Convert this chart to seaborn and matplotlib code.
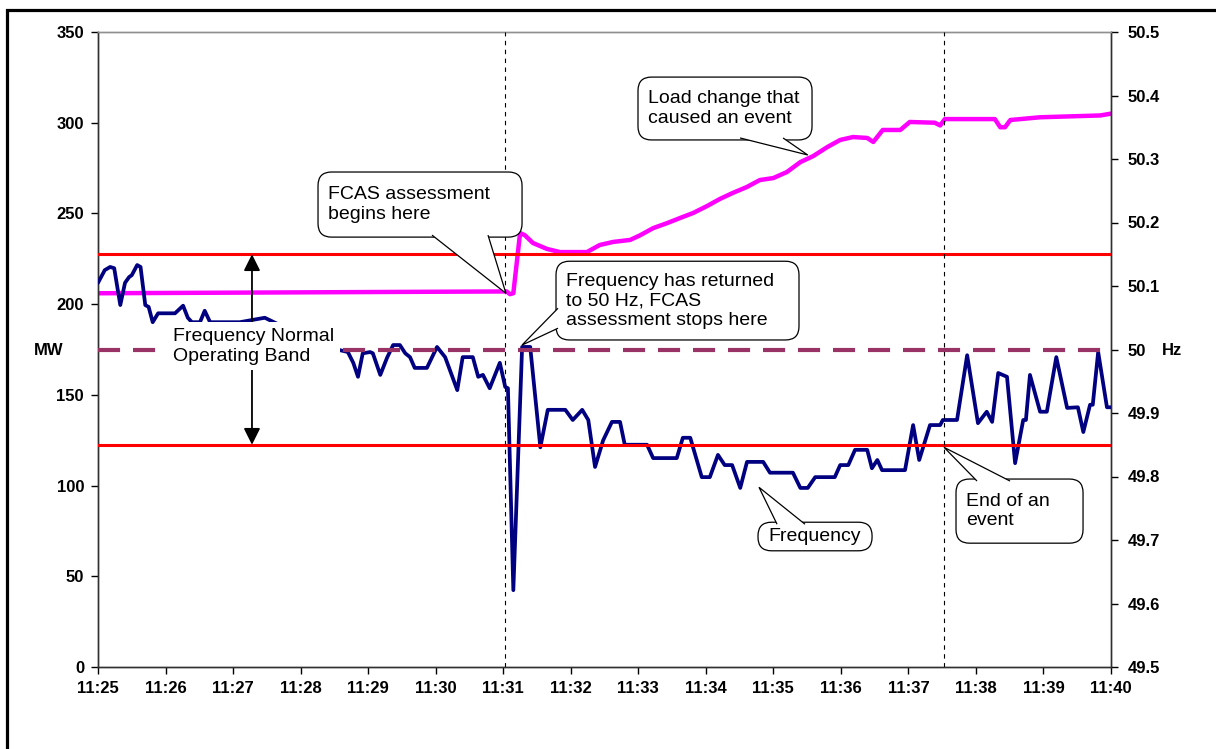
import numpy as np
import pandas as pd
import seaborn as sns
import matplotlib.pyplot as plt
from matplotlib.patches import Rectangle, FancyBboxPatch, Polygon

# time is in minutes after 11:25
freq_minutes = [0.00, 0.10, 0.18, 0.24, 0.33, 0.40, 0.46, 0.50, 0.58, 0.63,
                0.70, 0.75, 0.81, 0.89, 1.14, 1.26, 1.33, 1.39, 1.51, 1.58,
                1.66, 2.10, 2.47, 2.99, 3.58, 3.70, 3.78, 3.85, 3.92, 4.03,
                4.07, 4.18, 4.28, 4.37, 4.47, 4.55, 4.62, 4.69, 4.87, 5.02,
                5.14, 5.32, 5.40, 5.55, 5.63, 5.70, 5.80, 5.95, 6.03, 6.07,
                6.15, 6.28, 6.40, 6.55, 6.66, 6.92, 7.03, 7.17, 7.26, 7.36,
                7.48, 7.61, 7.73, 7.80, 8.13, 8.22, 8.57, 8.66, 8.77, 8.94,
                9.06, 9.18, 9.28, 9.39, 9.51, 9.61, 9.85, 9.95, 10.29, 10.40,
                10.51, 10.62, 10.91, 10.99, 11.11, 11.21, 11.39, 11.46, 11.54, 11.61,
                11.95, 12.07, 12.16, 12.32, 12.47, 12.51, 12.72, 12.87, 13.03, 13.16,
                13.24, 13.33, 13.46, 13.58, 13.70, 13.74, 13.80, 13.95, 14.05, 14.19,
                14.35, 14.51, 14.59, 14.69, 14.73, 14.81, 14.94, 15.00]
freq_hz = [50.105, 50.125, 50.130, 50.128, 50.070, 50.105, 50.114, 50.117, 50.133, 50.130,
           50.070, 50.067, 50.043, 50.057, 50.057, 50.069, 50.050, 50.043, 50.043, 50.061,
           50.043, 50.043, 50.050, 50.023, 49.999, 49.996, 49.979, 49.957, 49.994, 49.996,
           49.994, 49.960, 49.987, 50.007, 50.007, 49.994, 49.988, 49.971, 49.971, 50.004,
           49.988, 49.936, 49.988, 49.988, 49.957, 49.960, 49.939, 49.979, 49.941, 49.939,
           49.621, 50.004, 50.004, 49.846, 49.905, 49.905, 49.889, 49.905, 49.889, 49.815,
           49.857, 49.886, 49.886, 49.850, 49.850, 49.829, 49.829, 49.861, 49.861, 49.799,
           49.799, 49.834, 49.818, 49.818, 49.782, 49.823, 49.823, 49.806, 49.806, 49.782,
           49.782, 49.799, 49.799, 49.818, 49.818, 49.842, 49.842, 49.813, 49.826, 49.810,
           49.810, 49.881, 49.826, 49.881, 49.881, 49.889, 49.889, 49.991, 49.884, 49.902,
           49.886, 49.963, 49.957, 49.821, 49.889, 49.889, 49.960, 49.902, 49.902, 49.988,
           49.908, 49.909, 49.870, 49.913, 49.913, 49.996, 49.909, 49.909]

load_minutes = [0.00, 3.00, 6.05, 6.10, 6.15, 6.25, 6.32, 6.44, 6.65, 6.84,
                7.24, 7.43, 7.63, 7.88, 8.03, 8.22, 8.43, 8.62, 8.81, 9.02,
                9.21, 9.40, 9.61, 9.80, 10.00, 10.20, 10.40, 10.59, 10.80, 10.99,
                11.18, 11.39, 11.48, 11.62, 11.88, 12.02, 12.39, 12.47, 12.54, 13.28,
                13.36, 13.43, 13.51, 13.95, 14.84, 15.00]
load_mw = [206.0, 206.5, 207.0, 205.5, 206.0, 239.2, 238.0, 233.7, 230.4, 228.7,
           228.7, 232.6, 234.3, 235.4, 238.0, 241.9, 244.7, 247.5, 250.2, 254.1,
           258.0, 261.3, 264.6, 268.4, 269.5, 272.8, 278.3, 281.6, 286.6, 290.5,
           292.1, 291.6, 289.4, 296.0, 296.0, 300.4, 300.0, 298.5, 302.0, 302.0,
           297.5, 297.5, 301.5, 303.0, 304.0, 305.0]

time_labels = ["11:25", "11:26", "11:27", "11:28", "11:29", "11:30", "11:31", "11:32",
               "11:33", "11:34", "11:35", "11:36", "11:37", "11:38", "11:39", "11:40"]
mw_ticks = [0, 50, 100, 150, 200, 250, 300, 350]
hz_ticks = [49.5, 49.6, 49.7, 49.8, 49.9, 50.0, 50.1, 50.2, 50.3, 50.4, 50.5]
hz_labels = ["49.5", "49.6", "49.7", "49.8", "49.9", "50", "50.1", "50.2", "50.3", "50.4", "50.5"]

band_hz = [49.85, 50.15]
nominal_hz = 50.0
assessment_start = 6.03   # 11:31:02
event_end = 12.53         # 11:37:32

sns.set_theme(style="ticks")
plt.rcParams['font.family'] = ['Liberation Sans', 'DejaVu Sans']
plt.rcParams['text.color'] = 'black'
plt.rcParams['axes.labelcolor'] = 'black'
plt.rcParams['xtick.color'] = 'black'
plt.rcParams['ytick.color'] = 'black'

W, H = 1216, 749
fig = plt.figure(figsize=(W / 100, H / 100), dpi=100)
ax = fig.add_axes([98 / W, 1 - 667 / H, 1013 / W, 635 / H])
ax2 = ax.twinx()

sns.lineplot(x=load_minutes, y=load_mw, ax=ax, color="#FF00FF", linewidth=3.2,
             estimator=None, sort=False, solid_joinstyle="round")
sns.lineplot(x=freq_minutes, y=freq_hz, ax=ax2, color="#000080", linewidth=2.7,
             estimator=None, sort=False, zorder=3, solid_joinstyle="round",
             solid_capstyle="round")

ax.set_xlim(0, 15)
ax.set_ylim(0, 350)
ax2.set_ylim(49.5, 50.5)

ax.set_xticks(range(16), labels=time_labels, fontsize=12, fontweight="bold")
ax.set_yticks(mw_ticks, labels=[str(v) for v in mw_ticks], fontsize=12, fontweight="bold")
ax2.set_yticks(hz_ticks, labels=hz_labels, fontsize=12, fontweight="bold")
ax.tick_params(axis="x", length=5, width=1, color="black", labelcolor="black", pad=5)
ax.tick_params(axis="y", length=5, width=1, color="black", labelcolor="black", pad=5)
ax2.tick_params(axis="y", length=5, width=1, color="black", labelcolor="black", pad=7)

for a in (ax, ax2):
    for side in ("left", "right", "bottom"):
        a.spines[side].set_color("#303030")
        a.spines[side].set_linewidth(1)
    a.spines["top"].set_color("#909090")
    a.spines["top"].set_linewidth(1)

ax.set_xlabel("")
ax.set_ylabel("MW", rotation=0, fontsize=12, fontweight="bold", ha="center", va="center")
ax.yaxis.set_label_coords(-0.049, 0.499)
ax2.set_ylabel("Hz", rotation=0, fontsize=12, fontweight="bold", ha="center", va="center")
ax2.yaxis.set_label_coords(1.060, 0.499)

# reference lines
for lvl in band_hz:
    ax2.axhline(lvl, color="#FF0000", linewidth=2.2, zorder=4)
ax2.axhline(nominal_hz, color="#993366", linewidth=3, linestyle=(0, (5.3, 3.1)), zorder=4)
for t in (assessment_start, event_end):
    ax2.axvline(t, color="black", linewidth=0.8, linestyle=(0, (4, 4)), zorder=4)

# normal operating band arrow and label
ax2.annotate("", xy=(2.28, band_hz[0]), xytext=(2.28, band_hz[1]),
             arrowprops=dict(arrowstyle="<|-|>,head_length=0.5,head_width=0.25",
                             color="black", lw=1.3, shrinkA=0, shrinkB=0,
                             mutation_scale=20), zorder=5)
ax2.text(1.11, 50.005, "Frequency Normal\nOperating Band", fontsize=14,
         ha="left", va="center", zorder=8,
         bbox=dict(boxstyle="square,pad=0.3", fc="white", ec="none"))

# callouts: rounded box plus a pointer, all in (minutes, Hz) of the right axis
px_per_min = 1013 / 15
px_per_hz = 635 / 1.0
aspect = px_per_min / px_per_hz
dx, dy = 2 / px_per_min, 2 / px_per_hz


def mw_to_hz(mw):
    return 49.5 + mw / 350.0


def callout(text, x0, x1, y0, y1, base, tip, edge):
    ax2.add_patch(FancyBboxPatch((x0, y0), x1 - x0, y1 - y0,
                                 boxstyle="round,pad=0,rounding_size=0.2",
                                 mutation_aspect=aspect, fc="white", ec="black",
                                 lw=0.9, zorder=10, clip_on=False))
    (bx0, by0), (bx1, by1) = base
    if edge == "bottom":
        by0, by1 = by0 + dy, by1 + dy
    elif edge == "top":
        by0, by1 = by0 - dy, by1 - dy
    else:
        bx0, bx1 = bx0 + dx, bx1 + dx
    ax2.add_patch(Polygon([(bx0, by0), tip, (bx1, by1)], closed=False,
                          fc="white", ec="black", lw=0.9, zorder=11, clip_on=False))
    ax2.text(x0 + 0.15, (y0 + y1) / 2, text, fontsize=14, ha="left", va="center",
             zorder=12)


callout("FCAS assessment\nbegins here", 3.258, 6.279, 50.177, 50.2795,
        [(4.946, 50.177), (5.775, 50.177)], (6.04, mw_to_hz(206)), "bottom")
callout("Load change that\ncaused an event", 7.996, 10.573, 50.330, 50.429,
        [(9.507, 50.330), (10.144, 50.330)], (10.51, mw_to_hz(282.2)), "bottom")
callout("Frequency has returned\nto 50 Hz, FCAS\nassessment stops here",
        6.782, 10.380, 50.015, 50.139,
        [(6.782, 50.065), (6.782, 50.0335)], (6.279, 50.007), "left")
callout("Frequency", 9.773, 11.462, 49.683, 49.728,
        [(10.055, 49.728), (10.469, 49.728)], (9.788, 49.783), "top")
callout("End of an\nevent", 12.705, 14.586, 49.695, 49.796,
        [(13.016, 49.796), (13.505, 49.796)], (12.527, 49.846), "top")

# outer frame of the picture
fig.patches.append(Rectangle((6.5 / W, -0.1), 1.2, 1 - 9.5 / H + 0.1,
                             transform=fig.transFigure, fill=False,
                             ec="black", lw=2.3))

fig.savefig("out.png", dpi=100)
